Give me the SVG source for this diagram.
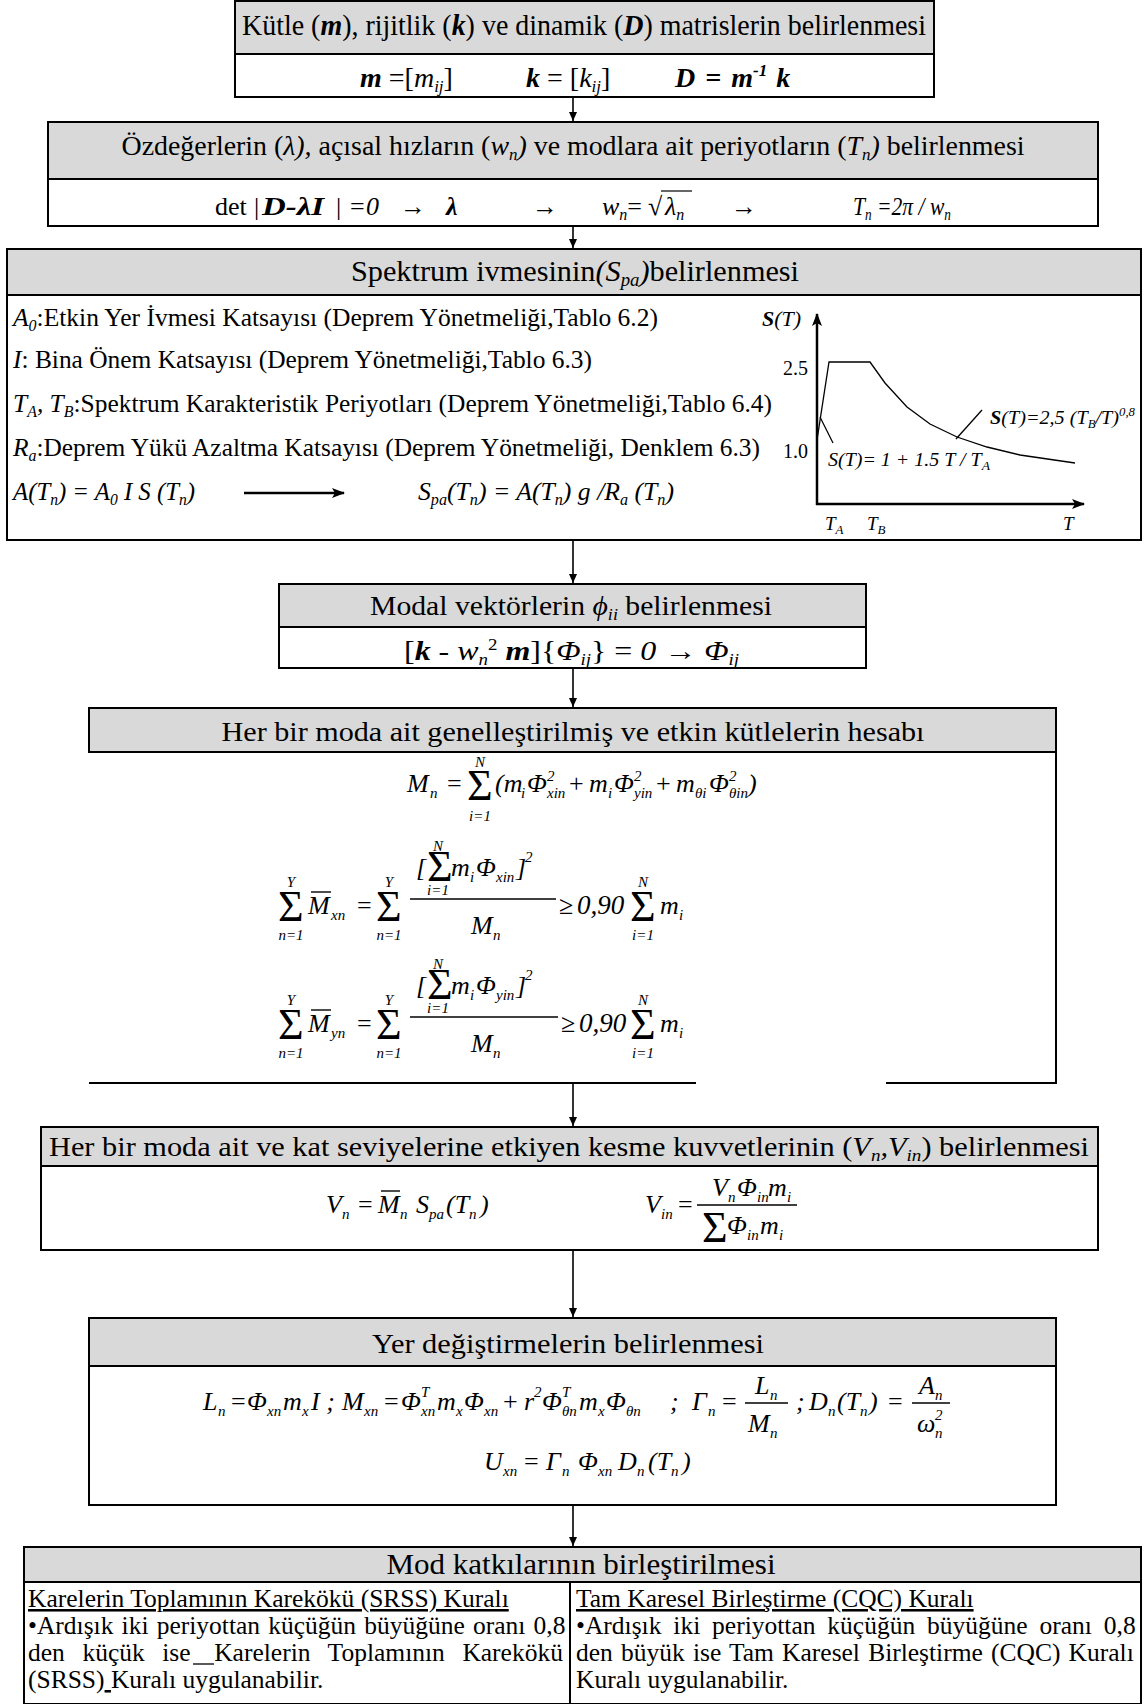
<svg xmlns="http://www.w3.org/2000/svg" width="1148" height="1704" viewBox="0 0 1148 1704">
<defs>
<style>
.hd{fill:#d9d9d9;stroke:#000;stroke-width:2}
.bd{fill:#fff;stroke:#000;stroke-width:2}
text{font-family:"Liberation Serif","Times New Roman",serif;fill:#000}
.i{font-style:italic}
.b{font-weight:bold}
.bi{font-weight:bold;font-style:italic}
.con{stroke:#000;stroke-width:1.6;fill:none}
.ax{stroke:#000;stroke-width:2.5;fill:none}
.ln{stroke:#000;stroke-width:1.3;fill:none}
.eq{font-style:italic;font-size:26px}
.up{font-style:normal}
.sb{font-size:15px;font-style:italic}
.sg{font-size:44px;font-style:normal}
.lim{font-size:15px;font-style:italic;text-anchor:middle}
.fb{stroke:#000;stroke-width:1.4}
.body{font-size:25.5px}
</style>
<marker id="ah" markerUnits="userSpaceOnUse" markerWidth="9" markerHeight="10" viewBox="0 0 9 10" refX="9" refY="5" orient="auto"><path d="M0,1 L9,5 L0,9 z" fill="#000"/></marker>
<marker id="ah2" markerUnits="userSpaceOnUse" markerWidth="13" markerHeight="12" viewBox="0 0 13 12" refX="12" refY="6" orient="auto"><path d="M0,1 L13,6 L0,11 L3,6 z" fill="#000"/></marker>
</defs>
<rect width="1148" height="1704" fill="#fff"/>

<g id="connectors">
<line class="con" x1="573" y1="97" x2="573" y2="121" marker-end="url(#ah)"/>
<line class="con" x1="573" y1="226" x2="573" y2="248" marker-end="url(#ah)"/>
<line class="con" x1="573" y1="540" x2="573" y2="583" marker-end="url(#ah)"/>
<line class="con" x1="573" y1="668" x2="573" y2="707" marker-end="url(#ah)"/>
<line class="con" x1="573" y1="1083" x2="573" y2="1126" marker-end="url(#ah)"/>
<line class="con" x1="573" y1="1250" x2="573" y2="1317" marker-end="url(#ah)"/>
<line class="con" x1="573" y1="1505" x2="573" y2="1546" marker-end="url(#ah)"/>
</g>

<g id="n1">
<rect class="hd" x="235" y="1" width="699" height="53"/>
<rect class="bd" x="235" y="54" width="699" height="43"/>
<text x="584" y="35" font-size="30" text-anchor="middle" textLength="684" lengthAdjust="spacingAndGlyphs">Kütle (<tspan class="bi">m</tspan>), rijitlik (<tspan class="bi">k</tspan>) ve dinamik (<tspan class="bi">D</tspan>) matrislerin belirlenmesi</text>
<text x="360" y="87" font-size="28"><tspan class="bi">m</tspan> =[<tspan class="i">m</tspan><tspan class="i" font-size="17" dy="5">ij</tspan><tspan dy="-5">]</tspan></text>
<text x="526" y="87" font-size="28"><tspan class="bi">k</tspan> = [<tspan class="i">k</tspan><tspan class="i" font-size="17" dy="5">ij</tspan><tspan dy="-5">]</tspan></text>
<text x="675" y="87" font-size="28" class="bi">D<tspan dx="10">=</tspan><tspan dx="10">m</tspan><tspan font-size="17" dy="-11">-1</tspan><tspan dy="11" dx="9">k</tspan></text>
</g>

<g id="n2">
<rect class="hd" x="48" y="122" width="1050" height="57"/>
<rect class="bd" x="48" y="179" width="1050" height="47"/>
<text x="573" y="155" font-size="28" text-anchor="middle" textLength="903" lengthAdjust="spacingAndGlyphs">Özdeğerlerin (<tspan class="i">λ),</tspan> açısal hızların (<tspan class="i">w</tspan><tspan class="i" font-size="17" dy="5">n</tspan><tspan class="i" dy="-5">)</tspan> ve modlara ait periyotların (<tspan class="i">T</tspan><tspan class="i" font-size="17" dy="5">n</tspan><tspan class="i" dy="-5">)</tspan> belirlenmesi</text>
<g font-size="26">
<text x="215" y="215">det</text>
<text x="254" y="215">|</text>
<text x="262" y="215" class="bi" textLength="62" lengthAdjust="spacingAndGlyphs">D-λI</text>
<text x="336" y="215">|</text>
<text x="350" y="215">=</text>
<text x="366" y="215" class="i">0</text>
<text x="400" y="215">→</text>
<text x="446" y="215" class="bi">λ</text>
<text x="532" y="215">→</text>
<text x="602" y="215" class="i">w<tspan font-size="16" dy="5">n</tspan><tspan dy="-5" font-style="normal">=</tspan></text>
<text x="648" y="215">√</text>
<line x1="661" y1="191" x2="692" y2="191" stroke="#000" stroke-width="1.2"/>
<text x="665" y="215" class="i">λ<tspan font-size="16" dy="5">n</tspan></text>
<text x="731" y="215">→</text>
<g transform="translate(853,215) scale(0.83,1)"><text x="0" y="0" class="i">T<tspan font-size="16" dy="5">n</tspan><tspan dy="-5"> =2π / w</tspan><tspan font-size="16" dy="5">n</tspan></text></g>
</g>
</g>

<g id="n3">
<rect class="hd" x="7" y="249" width="1134" height="46"/>
<rect class="bd" x="7" y="295" width="1134" height="245"/>
<text x="575" y="281" font-size="29" text-anchor="middle" textLength="448" lengthAdjust="spacingAndGlyphs">Spektrum ivmesinin<tspan class="i">(S</tspan><tspan class="i" font-size="18" dy="5">pa</tspan><tspan class="i" dy="-5">)</tspan>belirlenmesi</text>
<text x="13" y="326" class="body" textLength="645" lengthAdjust="spacingAndGlyphs"><tspan class="i">A</tspan><tspan class="i" font-size="16" dy="5">0</tspan><tspan dy="-5">:Etkin Yer İvmesi Katsayısı (Deprem Yönetmeliği,Tablo 6.2)</tspan></text>
<text x="13" y="368" class="body" textLength="579" lengthAdjust="spacingAndGlyphs"><tspan class="i">I</tspan>: Bina Önem Katsayısı (Deprem Yönetmeliği,Tablo 6.3)</text>
<text x="13" y="412" class="body" textLength="759" lengthAdjust="spacingAndGlyphs"><tspan class="i">T</tspan><tspan class="i" font-size="16" dy="5">A</tspan><tspan class="i" dy="-5">, T</tspan><tspan class="i" font-size="16" dy="5">B</tspan><tspan dy="-5">:Spektrum Karakteristik Periyotları (Deprem Yönetmeliği,Tablo 6.4)</tspan></text>
<text x="13" y="456" class="body" textLength="747" lengthAdjust="spacingAndGlyphs"><tspan class="i">R</tspan><tspan class="i" font-size="16" dy="5">a</tspan><tspan dy="-5">:Deprem Yükü Azaltma Katsayısı (Deprem Yönetmeliği, Denklem 6.3)</tspan></text>
<text x="13" y="500" class="body i" textLength="182" lengthAdjust="spacingAndGlyphs">A(T<tspan font-size="16" dy="5">n</tspan><tspan dy="-5">) = A</tspan><tspan font-size="16" dy="5">0</tspan><tspan dy="-5"> I S (T</tspan><tspan font-size="16" dy="5">n</tspan><tspan dy="-5">)</tspan></text>
<line x1="244" y1="493" x2="344" y2="493" stroke="#000" stroke-width="2.5" marker-end="url(#ah2)"/>
<text x="418" y="500" class="body i" textLength="256" lengthAdjust="spacingAndGlyphs">S<tspan font-size="16" dy="5">pa</tspan><tspan dy="-5">(T</tspan><tspan font-size="16" dy="5">n</tspan><tspan dy="-5">) = A(T</tspan><tspan font-size="16" dy="5">n</tspan><tspan dy="-5">) g /R</tspan><tspan font-size="16" dy="5">a</tspan><tspan dy="-5"> (T</tspan><tspan font-size="16" dy="5">n</tspan><tspan dy="-5">)</tspan></text>
<line class="ax" x1="817" y1="505" x2="817" y2="314" marker-end="url(#ah2)"/>
<line class="ax" x1="816" y1="504" x2="1084" y2="504" marker-end="url(#ah2)"/>
<polyline class="ln" points="817,440 829,362 870,362 885,383 907,407 930,424 957,437 987,447 1020,455 1075,463"/>
<line class="ln" x1="820" y1="417" x2="833" y2="443"/>
<line class="ln" x1="956" y1="439" x2="982" y2="410"/>
<text x="762" y="326" font-size="22"><tspan class="bi">S</tspan><tspan class="i">(T)</tspan></text>
<text x="808" y="375" font-size="20" text-anchor="end">2.5</text>
<text x="808" y="458" font-size="20" text-anchor="end">1.0</text>
<text x="828" y="466" font-size="19" class="i" textLength="162" lengthAdjust="spacingAndGlyphs">S(T)= 1 + 1.5 T / T<tspan font-size="13" dy="4">A</tspan></text>
<text x="990" y="424" font-size="19" class="i" textLength="145" lengthAdjust="spacingAndGlyphs"><tspan class="bi">S</tspan>(T)=2,5 (T<tspan font-size="12" dy="4">B</tspan><tspan dy="-4">/T)</tspan><tspan font-size="12" dy="-8">0,8</tspan></text>
<text x="825" y="530" font-size="19" class="i">T<tspan font-size="13" dy="4">A</tspan></text>
<text x="867" y="530" font-size="19" class="i">T<tspan font-size="13" dy="4">B</tspan></text>
<text x="1063" y="530" font-size="19" class="i">T</text>
</g>

<g id="n4">
<rect class="hd" x="279" y="584" width="587" height="43"/>
<rect class="bd" x="279" y="627" width="587" height="41"/>
<text x="370" y="615" font-size="28" textLength="402" lengthAdjust="spacingAndGlyphs">Modal vektörlerin <tspan class="i">ϕ</tspan><tspan class="i" font-size="17" dy="5">ii</tspan><tspan dy="-5"> belirlenmesi</tspan></text>
<text x="404" y="660" font-size="27" textLength="335" lengthAdjust="spacingAndGlyphs">[<tspan class="bi">k</tspan> - <tspan class="i">w</tspan><tspan class="i" font-size="16" dy="5">n</tspan><tspan font-size="16" dy="-15">2</tspan><tspan class="bi" dy="10"> m</tspan>]{<tspan class="i">Φ</tspan><tspan class="i" font-size="16" dy="5">ij</tspan><tspan dy="-5">} = </tspan><tspan class="i">0</tspan> → <tspan class="i">Φ</tspan><tspan class="i" font-size="16" dy="5">ij</tspan></text>
</g>

<g id="n5">
<rect class="hd" x="89" y="708" width="967" height="44"/>
<path class="bd" d="M89,752 H1056 V1083 H886 M696,1083 H89 Z"/>
<rect x="698" y="1080" width="186" height="6" fill="#fff"/>
<text x="573" y="741" font-size="28" text-anchor="middle" textLength="703" lengthAdjust="spacingAndGlyphs">Her bir moda ait genelleştirilmiş ve etkin kütlelerin hesabı</text>
<g class="eq">
<text x="407" y="792">M</text><text x="430" y="798" class="sb">n</text>
<text x="447" y="792" class="up">=</text>
<text x="467" y="800" class="sg">Σ</text>
<text x="480" y="767" class="lim">N</text><text x="480" y="821" class="lim">i=1</text>
<text x="495" y="792">(m</text><text x="521" y="798" class="sb">i</text>
<text x="527" y="792">Φ</text><text x="547" y="781" class="sb up">2</text><text x="547" y="798" class="sb">xin</text>
<text x="569" y="792" class="up">+</text>
<text x="589" y="792">m</text><text x="608" y="798" class="sb">i</text>
<text x="614" y="792">Φ</text><text x="634" y="781" class="sb up">2</text><text x="634" y="798" class="sb">yin</text>
<text x="656" y="792" class="up">+</text>
<text x="676" y="792">m</text><text x="695" y="798" class="sb">θi</text>
<text x="709" y="792">Φ</text><text x="729" y="781" class="sb up">2</text><text x="729" y="798" class="sb">θin</text>
<text x="748" y="792">)</text>
<text x="278" y="921" class="sg">Σ</text><text x="291" y="887" class="lim">Y</text><text x="291" y="940" class="lim">n=1</text>
<text x="308" y="914">M</text><line class="fb" x1="311" y1="892" x2="331" y2="892"/><text x="331" y="920" class="sb">xn</text>
<text x="357" y="914" class="up">=</text>
<text x="376" y="921" class="sg">Σ</text><text x="389" y="887" class="lim">Y</text><text x="389" y="940" class="lim">n=1</text>
<text x="416" y="876">[</text>
<text x="427" y="881" class="sg" font-size="38">Σ</text><text x="438" y="851" class="lim">N</text><text x="438" y="895" class="lim">i=1</text>
<text x="451" y="876">m</text><text x="470" y="882" class="sb">i</text>
<text x="476" y="876">Φ</text><text x="496" y="882" class="sb">xin</text>
<text x="516" y="876">]</text><text x="525" y="862" class="sb up">2</text>
<line class="fb" x1="410" y1="899" x2="556" y2="899"/>
<text x="471" y="934">M</text><text x="493" y="940" class="sb">n</text>
<text x="559" y="914" class="up">≥</text><text x="577" y="914" font-size="27">0,90</text>
<text x="630" y="921" class="sg">Σ</text><text x="643" y="887" class="lim">N</text><text x="643" y="940" class="lim">i=1</text>
<text x="660" y="914">m</text><text x="679" y="920" class="sb">i</text>
<text x="278" y="1039" class="sg">Σ</text><text x="291" y="1005" class="lim">Y</text><text x="291" y="1058" class="lim">n=1</text>
<text x="308" y="1032">M</text><line class="fb" x1="311" y1="1010" x2="331" y2="1010"/><text x="331" y="1038" class="sb">yn</text>
<text x="357" y="1032" class="up">=</text>
<text x="376" y="1039" class="sg">Σ</text><text x="389" y="1005" class="lim">Y</text><text x="389" y="1058" class="lim">n=1</text>
<text x="416" y="994">[</text>
<text x="427" y="999" class="sg" font-size="38">Σ</text><text x="438" y="969" class="lim">N</text><text x="438" y="1013" class="lim">i=1</text>
<text x="451" y="994">m</text><text x="470" y="1000" class="sb">i</text>
<text x="476" y="994">Φ</text><text x="496" y="1000" class="sb">yin</text>
<text x="516" y="994">]</text><text x="525" y="980" class="sb up">2</text>
<line class="fb" x1="410" y1="1017" x2="558" y2="1017"/>
<text x="471" y="1052">M</text><text x="493" y="1058" class="sb">n</text>
<text x="561" y="1032" class="up">≥</text><text x="579" y="1032" font-size="27">0,90</text>
<text x="630" y="1039" class="sg">Σ</text><text x="643" y="1005" class="lim">N</text><text x="643" y="1058" class="lim">i=1</text>
<text x="660" y="1032">m</text><text x="679" y="1038" class="sb">i</text>
</g>
</g>

<g id="n6">
<rect class="hd" x="41" y="1127" width="1057" height="39"/>
<rect class="bd" x="41" y="1166" width="1057" height="84"/>
<text x="569" y="1156" font-size="27" text-anchor="middle" textLength="1040" lengthAdjust="spacingAndGlyphs">Her bir moda ait ve kat seviyelerine etkiyen kesme kuvvetlerinin (<tspan class="i">V</tspan><tspan class="i" font-size="17" dy="5">n</tspan><tspan class="i" dy="-5">,V</tspan><tspan class="i" font-size="17" dy="5">in</tspan><tspan dy="-5">) belirlenmesi</tspan></text>
<g class="eq">
<text x="326" y="1213">V</text><text x="342" y="1219" class="sb">n</text>
<text x="358" y="1213" class="up">=</text>
<text x="378" y="1213">M</text><line class="fb" x1="381" y1="1191" x2="400" y2="1191"/><text x="400" y="1219" class="sb">n</text>
<text x="416" y="1213">S</text><text x="429" y="1219" class="sb">pa</text>
<text x="446" y="1213">(T</text><text x="469" y="1219" class="sb">n</text><text x="480" y="1213">)</text>
<text x="645" y="1213">V</text><text x="661" y="1219" class="sb">in</text>
<text x="678" y="1213" class="up">=</text>
<line class="fb" x1="697" y1="1205" x2="797" y2="1205"/>
<text x="712" y="1196">V</text><text x="728" y="1202" class="sb">n</text>
<text x="737" y="1196">Φ</text><text x="757" y="1202" class="sb">in</text>
<text x="768" y="1196">m</text><text x="787" y="1202" class="sb">i</text>
<text x="702" y="1242" class="sg" font-size="38">Σ</text>
<text x="727" y="1234">Φ</text><text x="747" y="1240" class="sb">in</text>
<text x="760" y="1234">m</text><text x="779" y="1240" class="sb">i</text>
</g>
</g>

<g id="n7">
<rect class="hd" x="89" y="1318" width="967" height="48"/>
<rect class="bd" x="89" y="1366" width="967" height="139"/>
<text x="568" y="1353" font-size="28" text-anchor="middle" textLength="392" lengthAdjust="spacingAndGlyphs">Yer değiştirmelerin belirlenmesi</text>
<g class="eq">
<text x="203" y="1410">L</text><text x="218" y="1416" class="sb">n</text>
<text x="231" y="1410" class="up">=</text>
<text x="247" y="1410">Φ</text><text x="267" y="1416" class="sb">xn</text>
<text x="283" y="1410">m</text><text x="302" y="1416" class="sb">x</text>
<text x="311" y="1410">I ;</text>
<text x="342" y="1410">M</text><text x="364" y="1416" class="sb">xn</text>
<text x="384" y="1410" class="up">=</text>
<text x="401" y="1410">Φ</text><text x="421" y="1397" class="sb">T</text><text x="421" y="1416" class="sb">xn</text>
<text x="437" y="1410">m</text><text x="456" y="1416" class="sb">x</text>
<text x="464" y="1410">Φ</text><text x="484" y="1416" class="sb">xn</text>
<text x="503" y="1410" class="up">+</text>
<text x="524" y="1410">r</text><text x="534" y="1397" class="sb up">2</text>
<text x="542" y="1410">Φ</text><text x="562" y="1397" class="sb">T</text><text x="562" y="1416" class="sb">θn</text>
<text x="579" y="1410">m</text><text x="598" y="1416" class="sb">x</text>
<text x="606" y="1410">Φ</text><text x="626" y="1416" class="sb">θn</text>
<text x="670" y="1410">;</text>
<text x="692" y="1410">Γ</text><text x="708" y="1416" class="sb">n</text>
<text x="722" y="1410" class="up">=</text>
<line class="fb" x1="745" y1="1403" x2="788" y2="1403"/>
<text x="755" y="1394">L</text><text x="770" y="1400" class="sb">n</text>
<text x="748" y="1432">M</text><text x="770" y="1438" class="sb">n</text>
<text x="796" y="1410">;</text>
<text x="809" y="1410">D</text><text x="828" y="1416" class="sb">n</text>
<text x="837" y="1410">(T</text><text x="860" y="1416" class="sb">n</text><text x="869" y="1410">)</text>
<text x="888" y="1410" class="up">=</text>
<line class="fb" x1="912" y1="1403" x2="950" y2="1403"/>
<text x="919" y="1394">A</text><text x="935" y="1400" class="sb">n</text>
<text x="917" y="1432">ω</text><text x="935" y="1420" class="sb up">2</text><text x="935" y="1438" class="sb">n</text>
<text x="484" y="1470">U</text><text x="503" y="1476" class="sb">xn</text>
<text x="524" y="1470" class="up">=</text>
<text x="546" y="1470">Γ</text><text x="562" y="1476" class="sb">n</text>
<text x="578" y="1470">Φ</text><text x="598" y="1476" class="sb">xn</text>
<text x="618" y="1470">D</text><text x="637" y="1476" class="sb">n</text>
<text x="648" y="1470">(T</text><text x="671" y="1476" class="sb">n</text><text x="682" y="1470">)</text>
</g>
</g>

<g id="n8">
<rect class="hd" x="24" y="1547" width="1117" height="35"/>
<rect class="bd" x="24" y="1582" width="1117" height="122"/>
<line x1="570" y1="1582" x2="570" y2="1704" stroke="#000" stroke-width="2"/>
<text x="581" y="1574" font-size="30" text-anchor="middle" textLength="389" lengthAdjust="spacingAndGlyphs">Mod katkılarının birleştirilmesi</text>
<g class="body">
<text x="28" y="1607" text-decoration="underline">Karelerin Toplamının Karekökü (SRSS) Kuralı</text>
<text x="28" y="1634" word-spacing="1.8">•Ardışık iki periyottan küçüğün büyüğüne oranı 0,8</text>
<text x="28" y="1661" word-spacing="11.2">den küçük ise <tspan dx="6">Karelerin</tspan> Toplamının Karekökü</text>
<line x1="193" y1="1664" x2="214" y2="1664" stroke="#000" stroke-width="1.3"/>
<text x="28" y="1688">(SRSS)<tspan text-decoration="underline"> </tspan>Kuralı uygulanabilir.</text>
<text x="576" y="1607" text-decoration="underline">Tam Karesel Birleştirme (CQC) Kuralı</text>
<text x="576" y="1634" word-spacing="5.5">•Ardışık iki periyottan küçüğün büyüğüne oranı 0,8</text>
<text x="576" y="1661" word-spacing="1.8">den büyük ise Tam Karesel Birleştirme (CQC) Kuralı</text>
<text x="576" y="1688">Kuralı uygulanabilir.</text>
</g>
</g>
</svg>
